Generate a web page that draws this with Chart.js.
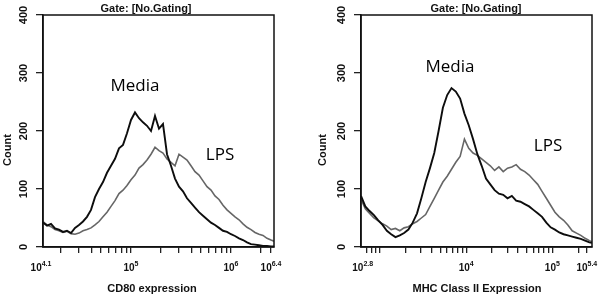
<!DOCTYPE html>
<html><head><meta charset="utf-8">
<script src="https://cdn.jsdelivr.net/npm/chart.js@4.4.1/dist/chart.umd.min.js"></script>
<style>
html,body{margin:0;padding:0;background:#fff;width:601px;height:298px;overflow:hidden}
#c1{position:absolute;left:0;top:0}
#c2{position:absolute;left:300px;top:0}
</style></head><body>
<canvas id="c1" width="300" height="298"></canvas>
<canvas id="c2" width="301" height="298"></canvas>
<script>
// ---- CD80 panel (left) : bin positions as log10 exponents ----
const cd80Exponents = [4.12,4.16,4.20,4.24,4.28,4.32,4.36,4.40,4.44,4.48,
  4.52,4.56,4.60,4.64,4.68,4.72,4.76,4.80,4.84,4.88,
  4.92,4.96,5.00,5.04,5.08,5.12,5.16,5.20,5.24,5.28,
  5.32,5.36,5.40,5.44,5.48,5.52,5.56,5.60,5.64,5.68,
  5.72,5.76,5.80,5.84,5.88,5.92,5.96,6.00,6.04,6.08,
  6.12,6.16,6.20,6.24,6.28,6.32,6.36,6.40,6.43];
const cd80Media = [42,37,40,32,30,26,28,24,33,38,
  44,52,64,86,100,112,128,140,152,170,
  176,196,219,232,222,215,209,200,226,204,
  212,160,140,118,104,96,84,76,68,60,
  54,48,42,38,33,28,26,22,19,15,
  12,8,5,4,3,2,2,1,1];
const cd80LPS = [44,38,35,30,28,25,27,23,22,24,
  28,30,33,38,44,52,60,70,80,92,
  98,106,116,124,136,142,150,160,172,166,
  162,152,146,140,160,155,150,140,130,124,
  114,104,98,88,82,72,64,58,52,47,
  40,34,30,25,22,20,15,12,10];
const cd80TickValues = [20000,30000,40000,50000,60000,70000,80000,90000,100000,
  200000,300000,400000,500000,600000,700000,800000,900000,1000000,2000000,2511886];
const cd80LabelExps = ['4.1','5','6','6.4'];

// ---- MHC Class II panel (right) ----
const mhcExponents = [2.78,2.83,2.88,2.93,2.98,3.03,3.08,3.13,3.18,3.23,
  3.28,3.33,3.38,3.43,3.48,3.53,3.58,3.63,3.68,3.73,
  3.78,3.83,3.88,3.93,3.98,4.03,4.08,4.13,4.18,4.23,
  4.28,4.33,4.38,4.43,4.48,4.53,4.58,4.63,4.68,4.73,
  4.78,4.83,4.88,4.93,4.98,5.03,5.08,5.13,5.18,5.23,
  5.28,5.33,5.38,5.43,5.46];
const mhcMedia = [88,70,62,55,46,38,28,22,17,20,
  24,30,42,58,84,112,136,162,200,240,
  262,274,268,256,230,210,186,160,140,118,
  108,98,92,90,84,88,80,78,74,70,
  64,58,52,42,34,30,25,22,20,18,
  16,14,11,8,7];
const mhcLPS = [82,66,58,50,45,40,36,30,32,28,
  33,35,40,44,50,56,70,84,98,112,
  122,134,146,156,186,170,162,158,152,146,
  140,132,138,130,136,138,142,134,130,124,
  116,108,96,84,72,60,52,46,38,28,
  24,20,15,11,9];
const mhcTickValues = [700,800,900,1000,2000,3000,4000,5000,6000,7000,8000,9000,10000,
  20000,30000,40000,50000,60000,70000,80000,90000,100000,200000,251189];
const mhcLabelExps = ['2.8','4','5','5.4'];

const yTickValues = [0,100,200,300,400];
const yTickLabels = ['0','100','200','300','400'];

const FONT = '"Liberation Sans", Arial, sans-serif';

function makeChart(canvasId, cfg) {
  const toPts = (exps, vals) => exps.map((e, i) => ({x: Math.pow(10, e), y: vals[i]}));
  const textPlugin = {
    id: 'texts',
    afterDraw(chart) {
      const ctx = chart.ctx;
      const ca = chart.chartArea;
      const xs = chart.scales.x;
      const ys = chart.scales.y;
      ctx.save();
      // frame
      ctx.strokeStyle = '#111';
      ctx.lineWidth = 1.5;
      ctx.strokeRect(ca.left, ca.top, ca.right - ca.left, ca.bottom - ca.top);
      ctx.fillStyle = '#111';
      // title
      ctx.font = 'bold 11px ' + FONT;
      ctx.textAlign = 'center';
      ctx.textBaseline = 'alphabetic';
      ctx.fillText('Gate: [No.Gating]', cfg.titleX, 12);
      // x axis title
      ctx.fillText(cfg.xTitle, cfg.xTitleX, 292);
      // y axis title
      ctx.save();
      ctx.translate(cfg.countX, 150);
      ctx.rotate(-Math.PI / 2);
      ctx.textBaseline = 'middle';
      ctx.fillText('Count', 0, 0);
      ctx.restore();
      // y tick labels, rotated
      ctx.font = 'bold 11px ' + FONT;
      yTickValues.forEach((v, i) => {
        const py = ys.getPixelForValue(v);
        ctx.save();
        ctx.translate(cfg.yLabelX, py);
        ctx.rotate(-Math.PI / 2);
        ctx.textAlign = 'center';
        ctx.textBaseline = 'middle';
        ctx.fillText(yTickLabels[i], 0, 0);
        ctx.restore();
      });
      // x tick labels 10^e
      ctx.textBaseline = 'alphabetic';
      cfg.labelExps.forEach(ex => {
        const px = xs.getPixelForValue(Math.pow(10, parseFloat(ex)));
        ctx.font = 'bold 10px ' + FONT;
        const wb = ctx.measureText('10').width;
        ctx.font = 'bold 7px ' + FONT;
        const we = ctx.measureText(ex).width;
        const x0 = px - (wb + we) / 2;
        ctx.textAlign = 'left';
        ctx.font = 'bold 10px ' + FONT;
        ctx.fillText('10', x0, 270.5);
        ctx.font = 'bold 7px ' + FONT;
        ctx.fillText(ex, x0 + wb, 266);
      });
      // annotations
      ctx.font = '17px "Open Sans", "Noto Sans", sans-serif';
      ctx.textAlign = 'center';
      ctx.textBaseline = 'middle';
      ctx.fillStyle = '#000';
      ctx.fillText('Media', cfg.mediaX, cfg.mediaY);
      ctx.fillText('LPS', cfg.lpsX, cfg.lpsY);
      ctx.restore();
    }
  };
  return new Chart(document.getElementById(canvasId), {
    type: 'line',
    data: {
      datasets: [
        {label: 'Media', data: toPts(cfg.exps, cfg.media), borderColor: '#0d0d0d', borderWidth: 1.9,
         pointRadius: 0, tension: 0, fill: false},
        {label: 'LPS', data: toPts(cfg.exps, cfg.lps), borderColor: '#666', borderWidth: 1.6,
         pointRadius: 0, tension: 0, fill: false}
      ]
    },
    options: {
      responsive: false,
      animation: false,
      devicePixelRatio: 1,
      layout: {padding: {left: 0, right: cfg.padRight, top: 15, bottom: 0}},
      plugins: {legend: {display: false}, tooltip: {enabled: false}, title: {display: false}},
      scales: {
        x: {
          type: 'logarithmic',
          bounds: 'data',
          min: Math.pow(10, cfg.xMinExp),
          max: Math.pow(10, cfg.xMaxExp),
          afterBuildTicks: s => { s.ticks = cfg.tickValues.map(v => ({value: v})); },
          afterFit: s => { s.height = 51; },
          ticks: {autoSkip: false, maxRotation: 0, callback: () => ''},
          grid: {drawOnChartArea: false, tickLength: 6, color: '#222', lineWidth: 1.3},
          border: {color: '#111', width: 1.5}
        },
        y: {
          min: 0, max: 400,
          afterBuildTicks: s => { s.ticks = yTickValues.map(v => ({value: v})); },
          afterFit: s => { s.width = cfg.yWidth; },
          ticks: {callback: () => '', padding: 0},
          grid: {drawOnChartArea: false, tickLength: 7, color: '#222', lineWidth: 1.3},
          border: {color: '#111', width: 1.5}
        }
      }
    },
    plugins: [textPlugin]
  });
}

makeChart('c1', {
  exps: cd80Exponents, media: cd80Media, lps: cd80LPS,
  tickValues: cd80TickValues, labelExps: cd80LabelExps,
  xMinExp: 4.12, xMaxExp: 6.43, yWidth: 43, padRight: 26,
  titleX: 146, xTitle: 'CD80 expression', xTitleX: 152, countX: 8, yLabelX: 24,
  mediaX: 135, mediaY: 86, lpsX: 220, lpsY: 155
});
makeChart('c2', {
  exps: mhcExponents, media: mhcMedia, lps: mhcLPS,
  tickValues: mhcTickValues, labelExps: mhcLabelExps,
  xMinExp: 2.78, xMaxExp: 5.46, yWidth: 61, padRight: 9,
  titleX: 176, xTitle: 'MHC Class II Expression', xTitleX: 177, countX: 23, yLabelX: 42,
  mediaX: 150, mediaY: 67, lpsX: 248, lpsY: 146
});
</script>
</body></html>
